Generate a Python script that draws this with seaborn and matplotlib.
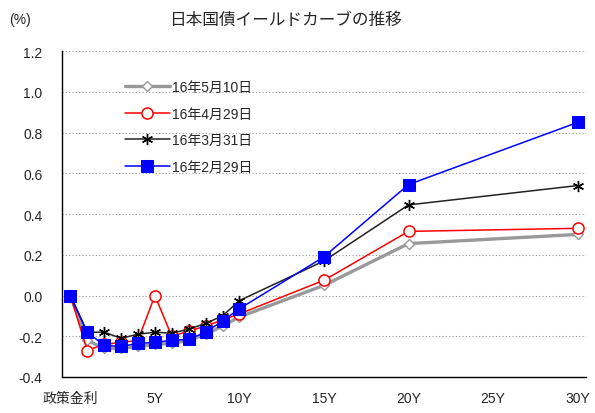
import matplotlib
matplotlib.use("Agg")
import matplotlib.pyplot as plt
import seaborn as sns
import pandas as pd

# 年限 (0 = 政策金利)
years = [0, 1, 2, 3, 4, 5, 6, 7, 8, 9, 10, 15, 20, 30]
may10 = [0, -0.22, -0.26, -0.26, -0.25, -0.24, -0.235, -0.22, -0.19, -0.15, -0.105, 0.05, 0.255, 0.30]
apr29 = [0, -0.27, -0.24, -0.23, -0.22, 0.0, -0.20, -0.175, -0.15, -0.12, -0.09, 0.075, 0.315, 0.33]
mar31 = [0, -0.18, -0.18, -0.21, -0.19, -0.18, -0.185, -0.165, -0.137, -0.10, -0.025, 0.17, 0.445, 0.54]
feb29 = [0, -0.18, -0.245, -0.25, -0.235, -0.23, -0.22, -0.215, -0.18, -0.125, -0.065, 0.19, 0.545, 0.85]
labels = ['16年5月10日', '16年4月29日', '16年3月31日', '16年2月29日']
xtick_pos = [0, 5, 10, 15, 20, 25, 30]
xtick_labels = ['政策金利', '5Y', '10Y', '15Y', '20Y', '25Y', '30Y']

sns.set_style('white')
plt.rcParams['font.family'] = ['Liberation Sans', 'Noto Sans CJK JP']

fig = plt.figure(figsize=(5.95, 4.14), dpi=100)
ax = fig.add_axes([0.104, 0.087, 0.881, 0.787])

styles = [
    dict(color='#999999', lw=2.4, marker='D', ms=5, mfc='white', mec='#999999', mew=1),
    dict(color='red', lw=1.1, marker='o', ms=8, mfc='white', mec='red', mew=1.1),
    dict(color='#222222', lw=1.1, marker=(6, 2, 0), ms=8, mec='black', mew=1.0),
    dict(color='blue', lw=1.1, marker='s', ms=8.5, mfc='blue', mec='blue'),
]
series = [may10, apr29, mar31, feb29]

for vals, lab, st in zip(series, labels, styles):
    df = pd.DataFrame({'year': years, 'value': vals})
    sns.lineplot(data=df, x='year', y='value', ax=ax, label=lab, clip_on=False, **st)

ax.set_xlim(-0.5, 30.5)
ax.set_ylim(-0.4, 1.2)
ax.set_yticks([-0.4, -0.2, 0.0, 0.2, 0.4, 0.6, 0.8, 1.0, 1.2])
ax.set_yticklabels(['-0.4', '-0.2', '0.0', '0.2', '0.4', '0.6', '0.8', '1.0', '1.2'], fontsize=10)
ax.set_xticks(xtick_pos)
ax.set_xticklabels(xtick_labels, fontsize=10)
ax.set_xticks([i - 0.5 for i in range(32)], minor=True)
ax.tick_params(axis='x', which='major', length=0, pad=10)
ax.tick_params(axis='x', which='minor', length=4, direction='in', width=0.8)
ax.tick_params(axis='y', length=4, direction='in', width=0.8, pad=14)
ax.yaxis.grid(True, linestyle=(0, (1, 2)), color='#999999', lw=0.8)
ax.set_axisbelow(True)
for s in ['top', 'right']:
    ax.spines[s].set_visible(False)
for s in ['left', 'bottom']:
    ax.spines[s].set_color('black')
    ax.spines[s].set_linewidth(1)
ax.set_xlabel('')
ax.set_ylabel('')

ax.legend(loc='upper left', bbox_to_anchor=(0.097, 0.95), frameon=False,
          fontsize=10, handlelength=3.2, labelspacing=0.9, handletextpad=0.2)

fig.text(0.48, 0.952, '日本国債イールドカーブの推移', ha='center', va='center', fontsize=12)
fig.text(0.015, 0.952, '(%)', ha='left', va='center', fontsize=10)

fig.savefig('out.png', dpi=100)
